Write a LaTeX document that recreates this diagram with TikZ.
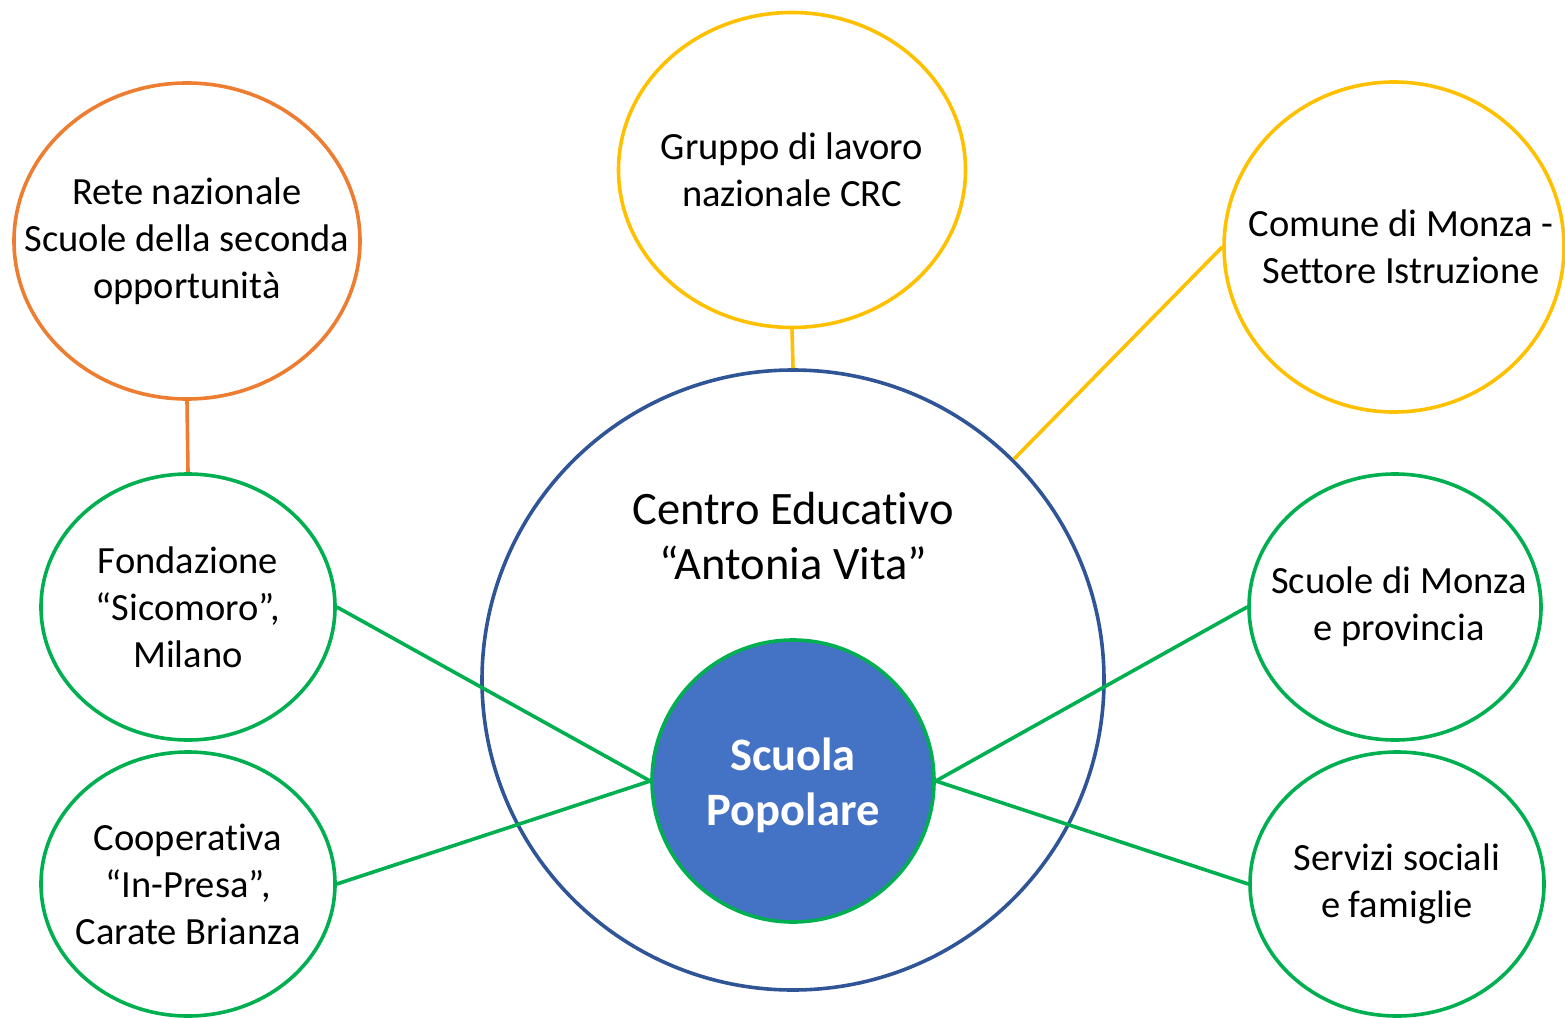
\documentclass[tikz,border=0pt]{standalone}
\usepackage{fontspec}
\setmainfont{Carlito}[Ligatures=NoCommon]
\usepackage{tikz}
\usetikzlibrary{positioning,shapes.geometric}
\definecolor{orangeline}{HTML}{ED7D31}
\definecolor{goldline}{HTML}{FFC000}
\definecolor{greenline}{HTML}{00B050}
\definecolor{navyline}{HTML}{2F5597}
\definecolor{bluefill}{HTML}{4472C4}

\begin{document}
\begin{tikzpicture}[
  x=1pt, y=-1pt,
  circ/.style={draw, ellipse, inner sep=0pt, line width=3.6pt},
  txt/.style={align=center, font=\fontsize{38.5}{47}\selectfont},
  bigtxt/.style={align=center, font=\fontsize{46.5}{55}\selectfont},
  edge/.style={line width=3.6pt}
]
\useasboundingbox (0,0) rectangle (1565,1019);

\node[circ, draw=navyline, minimum width=622pt, minimum height=620pt] (centro) at (793,680) {};
\node[bigtxt] (centrotxt) at (793,536) {Centro Educativo\\“Antonia Vita”};

\node[circ, draw=orangeline, minimum width=346pt, minimum height=316pt] (rete) at (187,241) {};
\node[txt] (retetxt) at (rete.center) {Rete nazionale\\Scuole della seconda\\opportunità};
\node[circ, draw=goldline, minimum width=347pt, minimum height=315pt] (gruppo) at (792,170) {};
\node[txt] (gruppotxt) at (gruppo.center) {Gruppo di lavoro\\nazionale CRC};
\node[circ, draw=goldline, minimum width=340pt, minimum height=330pt] (comune) at (1394,247) {};
\node[txt, xshift=7pt] (comunetxt) at (comune.center) {Comune di Monza -\\Settore Istruzione};

\node[circ, draw=greenline, minimum width=294pt, minimum height=266pt] (sicomoro) at (188,607) {};
\node[txt] (sicomorotxt) at (sicomoro.center) {Fondazione\\“Sicomoro”,\\Milano};
\node[circ, draw=greenline, minimum width=294pt, minimum height=264pt] (inpresa) at (188,884) {};
\node[txt] (inpresatxt) at (inpresa.center) {Cooperativa\\“In-Presa”,\\Carate Brianza};
\node[circ, draw=greenline, minimum width=292pt, minimum height=266pt] (monza) at (1395,607) {};
\node[txt, xshift=4pt] (monzatxt) at (monza.center) {Scuole di Monza\\e provincia};
\node[circ, draw=greenline, minimum width=294pt, minimum height=264pt] (servizi) at (1397,884) {};
\node[txt] (servizitxt) at (servizi.center) {Servizi sociali\\e famiglie};

\draw[edge, draw=orangeline] (rete.south) -- (sicomoro.north);
\draw[edge, draw=goldline] (gruppo.south) -- (centro.north);
\draw[edge, draw=goldline] (comune.west) -- (centro.45);

\node[circ, draw=greenline, fill=bluefill, minimum width=282pt, minimum height=282pt] (scuola) at (793,781) {};
\node[text=white, align=center, font=\bfseries\fontsize{46.5}{55}\selectfont] (scuolatxt) at (793,785) {Scuola\\Popolare};

\draw[edge, draw=greenline] (sicomoro.east) -- (scuola.west);
\draw[edge, draw=greenline] (inpresa.east) -- (scuola.west);
\draw[edge, draw=greenline] (monza.west) -- (scuola.east);
\draw[edge, draw=greenline] (servizi.west) -- (scuola.east);
\end{tikzpicture}
\end{document}
